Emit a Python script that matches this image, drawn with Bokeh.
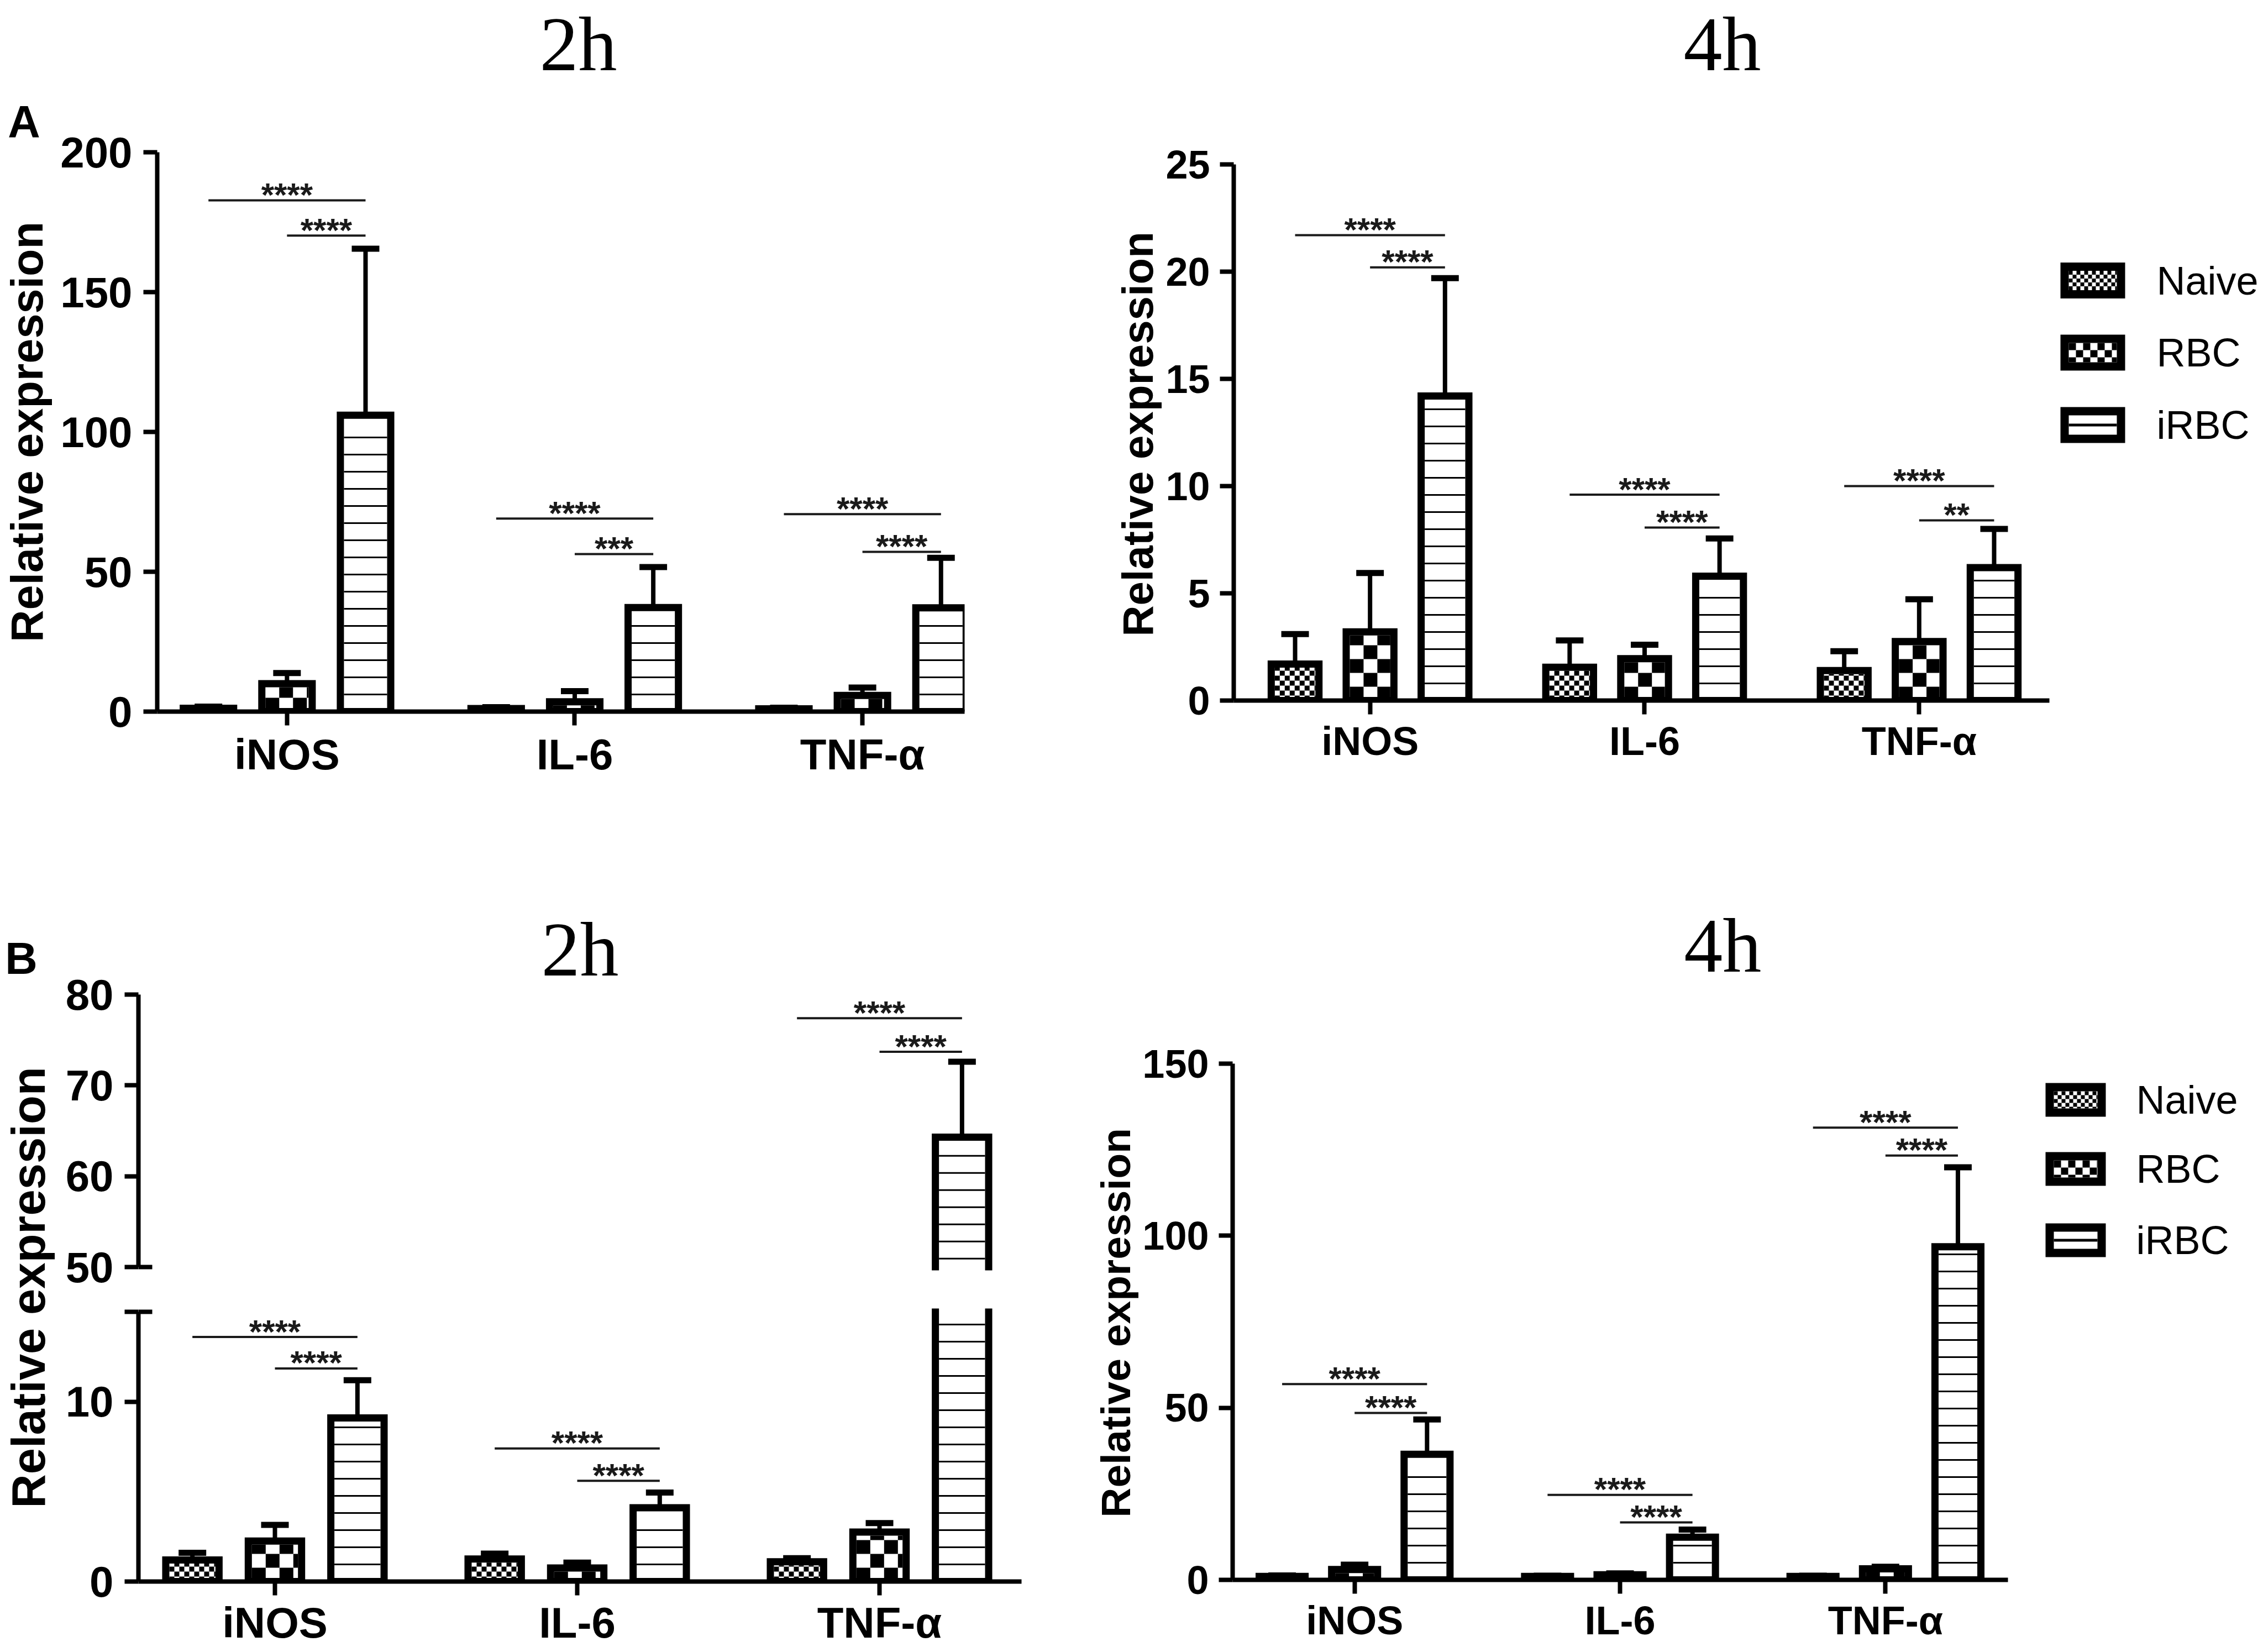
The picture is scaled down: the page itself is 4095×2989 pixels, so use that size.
import math
from bokeh.plotting import figure
from bokeh.models import Range1d, FixedTicker, Title
from bokeh.layouts import row, column
from bokeh.embed import file_html
from bokeh.resources import INLINE
from bokeh.core.properties import value

# ---------------- data ----------------
categories = ["iNOS", "IL-6", "TNF-α"]
groups = ["Naive", "RBC", "iRBC"]

# Panel A, 2h
a2_naive = [1.2, 1.1, 1.0]
a2_naive_err = [0.6, 0.5, 0.4]
a2_rbc = [10.0, 3.5, 5.8]
a2_rbc_err = [3.8, 3.8, 2.8]
a2_irbc = [106.0, 37.2, 37.1]
a2_irbc_err = [59.5, 14.5, 17.9]
a2_ticks = [0, 50, 100, 150, 200]
a2_sig_upper = [182.8, 69.0, 70.6]
a2_sig_lower = [170.2, 56.3, 57.1]
a2_star_upper = ["****", "****", "****"]
a2_star_lower = ["****", "***", "****"]

# Panel A, 4h
a4_naive = [1.7, 1.55, 1.4]
a4_naive_err = [1.4, 1.25, 0.9]
a4_rbc = [3.2, 1.95, 2.75]
a4_rbc_err = [2.75, 0.65, 1.97]
a4_irbc = [14.2, 5.8, 6.2]
a4_irbc_err = [5.5, 1.76, 1.8]
a4_ticks = [0, 5, 10, 15, 20, 25]
a4_sig_upper = [21.7, 9.6, 10.0]
a4_sig_lower = [20.2, 8.07, 8.4]
a4_star_upper = ["****", "****", "****"]
a4_star_lower = ["****", "****", "**"]

# Panel B, 2h (broken axis)
b2_naive = [1.2, 1.25, 1.1]
b2_naive_err = [0.4, 0.3, 0.2]
b2_rbc = [2.25, 0.75, 2.75]
b2_rbc_err = [0.9, 0.3, 0.5]
b2_irbc = [9.1, 4.1, 64.3]
b2_irbc_err = [2.1, 0.85, 8.3]
b2_ticks_low = [0, 10, 15]
b2_ticks_high = [50, 60, 70, 80]
b2_sig_upper = [13.6, 7.4, 77.4]
b2_sig_lower = [11.85, 5.6, 73.7]
b2_star_upper = ["****", "****", "****"]
b2_star_lower = ["****", "****", "****"]

# Panel B, 4h
b4_naive = [1.0, 1.0, 1.0]
b4_naive_err = [0.3, 0.2, 0.2]
b4_rbc = [3.0, 1.5, 3.2]
b4_rbc_err = [1.4, 0.4, 0.6]
b4_irbc = [36.5, 12.4, 96.8]
b4_irbc_err = [10.1, 2.2, 23.1]
b4_ticks = [0, 50, 100, 150]
b4_sig_upper = [56.9, 24.7, 131.4]
b4_sig_lower = [48.5, 16.7, 123.3]
b4_star_upper = ["****", "****", "****"]
b4_star_lower = ["****", "****", "****"]

# ---------------- style ----------------
SANS = "Liberation Sans"
SERIF = "Liberation Serif"
OFFS = [-0.273, 0.0, 0.273]
BAR_W = 0.2
OUT_W = 13
STEM_W = 8
CAP_W = 11
CAP_HALF = 25
SIG_W = 4
STAR_PX = 60
STAR_RISE = 10
HL_SP = 31
HL_W = 3
CELLS = [9, 25]
RAD90 = math.pi / 2


def make_geo(fl, fr, ft, fb, xr, yr):
    return dict(fl=fl, fr=fr, ft=ft, fb=fb, xr=xr, yr=yr,
                ppx=(fr - fl) / (xr[1] - xr[0]), ppy=(fb - ft) / (yr[1] - yr[0]))


def cat_geo(fl, fr, ft, fb, cat0, sp, yr):
    xr = ((fl - cat0) / sp, (fr - cat0) / sp)
    return make_geo(fl, fr, ft, fb, xr, yr)


def new_fig(fx0, fx1, fy0, fy1, g, xaxis, yaxis):
    p = figure(width=int(fx1 - fx0), height=int(fy1 - fy0), title=None,
               x_range=Range1d(*g["xr"]), y_range=Range1d(*g["yr"]),
               output_backend="svg", toolbar_location=None, tools="",
               x_axis_location="below" if xaxis else None,
               y_axis_location="left" if yaxis else None,
               min_border_left=int(round(g["fl"] - fx0)), min_border_right=int(round(fx1 - g["fr"])),
               min_border_top=int(round(g["ft"] - fy0)), min_border_bottom=int(round(fy1 - g["fb"])))
    p.outline_line_color = None
    p.xgrid.visible = False
    p.ygrid.visible = False
    p.background_fill_color = "white"
    p.border_fill_color = "white"
    return p


def text_fig(fx0, fx1, fy0, fy1, fl=None, fr=None):
    fl = fx0 if fl is None else fl
    fr = fx1 if fr is None else fr
    g = make_geo(fl, fr, fy0, fy1, (fl, fr), (fy1, fy0))
    return new_fig(fx0, fx1, fy0, fy1, g, False, False)


def put_text(p, X, Y, text, size, font=SANS, style="normal", angle=0.0, align="center"):
    p.text(x=[X], y=[Y], text=[text], angle=angle, text_font=value(font),
           text_font_size=f"{size}px", text_font_style=style, text_align=align,
           text_baseline="middle", text_color="black")


def style_ax(ax, font_px, standoff):
    ax.axis_line_width = 8
    ax.axis_line_color = "black"
    ax.major_tick_line_width = 8
    ax.major_tick_line_color = "black"
    ax.major_tick_out = 25
    ax.major_tick_in = 0
    ax.minor_tick_line_color = None
    ax.major_label_text_font = SANS
    ax.major_label_text_font_style = "bold"
    ax.major_label_text_font_size = f"{font_px}px"
    ax.major_label_text_color = "black"
    ax.major_label_standoff = standoff


def setup_axes(p, font_px, yticks, xaxis=True, overrides=None, bounds=None,
               xstand=8, ystand=20):
    yax = p.yaxis[0]
    style_ax(yax, font_px, ystand)
    yax.ticker = FixedTicker(ticks=yticks)
    if overrides:
        yax.major_label_overrides = overrides
    if bounds:
        yax.bounds = bounds
    if xaxis:
        xax = p.xaxis[0]
        style_ax(xax, font_px, xstand)
        xax.ticker = FixedTicker(ticks=list(range(len(categories))))
        xax.major_label_overrides = {i: c for i, c in enumerate(categories)}


def checker(acc, X0, X1, Y0, Y1, cw, ch):
    nx = int(math.ceil((X1 - X0) / cw - 1e-9))
    ny = int(math.ceil((Y1 - Y0) / ch - 1e-9))
    for i in range(ny):
        for j in range(nx):
            if (i + j) % 2 == 0:
                acc[0].append(X0 + j * cw)
                acc[1].append(min(X0 + (j + 1) * cw, X1))
                acc[2].append(Y0 + i * ch)
                acc[3].append(min(Y0 + (i + 1) * ch, Y1))


def draw_bars(p, g, series, errs):
    ppx, ppy = g["ppx"], g["ppy"]
    hw = BAR_W / 2 - (OUT_W / 2) / ppx
    bl, br, bb, bt = [], [], [], []
    chk = ([], [], [], [])
    hx0, hx1, hy = [], [], []
    sx, sy0, sy1 = [], [], []
    kx0, kx1, ky = [], [], []
    for gi, (vals, ers) in enumerate(zip(series, errs)):
        for ci, (v, e) in enumerate(zip(vals, ers)):
            xc = ci + OFFS[gi]
            bl.append(xc - hw); br.append(xc + hw); bb.append(0); bt.append(v)
            X0 = xc - BAR_W / 2 + OUT_W / ppx
            X1 = xc + BAR_W / 2 - OUT_W / ppx
            Y0 = 0.0
            Y1 = v - (OUT_W / 2) / ppy
            if Y1 > Y0:
                if gi < 2:
                    c = CELLS[gi]
                    checker(chk, X0, X1, Y0, Y1, c / ppx, c / ppy)
                else:
                    k = 1
                    while Y0 + k * HL_SP / ppy < Y1 - 4 / ppy:
                        hx0.append(X0); hx1.append(X1); hy.append(Y0 + k * HL_SP / ppy)
                        k += 1
            sx.append(xc); sy0.append(v); sy1.append(v + e)
            kx0.append(xc - CAP_HALF / ppx); kx1.append(xc + CAP_HALF / ppx); ky.append(v + e)
    p.quad(left=bl, right=br, bottom=bb, top=bt, fill_color="white",
           line_color="black", line_width=OUT_W, line_join="miter")
    p.quad(left=chk[0], right=chk[1], bottom=chk[2], top=chk[3],
           fill_color="black", line_color=None)
    p.segment(x0=hx0, y0=hy, x1=hx1, y1=hy, line_color="black", line_width=HL_W)
    p.segment(x0=sx, y0=sy0, x1=sx, y1=sy1, line_color="black", line_width=STEM_W)
    p.segment(x0=kx0, y0=ky, x1=kx1, y1=ky, line_color="black", line_width=CAP_W)


def draw_sig(p, g, up, up_t, lo, lo_t):
    xs0, xs1, ys, tx, ty, tt = [], [], [], [], [], []
    for ci in range(len(categories)):
        xi = ci + OFFS[2]
        for x0, y, t in ((ci + OFFS[0], up[ci], up_t[ci]), (ci + OFFS[1], lo[ci], lo_t[ci])):
            if g["yr"][0] <= y <= g["yr"][1]:
                xs0.append(x0); xs1.append(xi); ys.append(y)
                tx.append((x0 + xi) / 2); ty.append(y + STAR_RISE / g["ppy"]); tt.append(t)
    p.segment(x0=xs0, y0=ys, x1=xs1, y1=ys, line_color="#1a1a1a", line_width=SIG_W)
    p.text(x=tx, y=ty, text=tt, text_font=value(SANS), text_font_size=f"{STAR_PX}px",
           text_font_style="bold", text_align="center", text_baseline="middle",
           text_color="#1a1a1a")


def legend_fig(fx0, fx1, fy0, fy1, bx0, bx1, centers, bh, text_x, font_px, cells):
    p = text_fig(fx0, fx1, fy0, fy1)
    lw = 15
    chk = ([], [], [], [])
    hx0, hx1, hy = [], [], []
    for i, c in enumerate(centers):
        X0, X1 = bx0 + lw, bx1 - lw
        Y0, Y1 = c - bh / 2 + lw, c + bh / 2 - lw
        if i < 2:
            checker(chk, X0, X1, Y0, Y1, cells[i], cells[i])
        else:
            hx0.append(X0); hx1.append(X1); hy.append(c)
    p.quad(left=[bx0 + lw / 2] * 3, right=[bx1 - lw / 2] * 3,
           bottom=[c + bh / 2 - lw / 2 for c in centers], top=[c - bh / 2 + lw / 2 for c in centers],
           fill_color="white", line_color="black", line_width=lw, line_join="miter")
    p.quad(left=chk[0], right=chk[1], bottom=chk[2], top=chk[3], fill_color="black", line_color=None)
    p.segment(x0=hx0, y0=hy, x1=hx1, y1=hy, line_color="black", line_width=5)
    p.text(x=[text_x] * 3, y=centers, text=groups, text_font=value(SANS),
           text_font_size=f"{font_px}px", text_align="left", text_baseline="middle",
           text_color="black")
    return p


W_TOTAL = 4090

# ================= Row A =================
tA = text_fig(0, W_TOTAL, 0, 160)
put_text(tA, 1046, 79, "2h", 140, font=SERIF)
put_text(tA, 3116, 79, "4h", 140, font=SERIF)

sA2 = text_fig(0, 106, 160, 1500)
put_text(sA2, 43, 219, "A", 81, style="bold")
put_text(sA2, 48, 781, "Relative expression", 81, style="bold", angle=RAD90)

gA2 = cat_geo(283, 1745, 275, 1287, 518, 521, (0, 200))
pA2 = new_fig(106, 1800, 160, 1500, gA2, True, True)
setup_axes(pA2, 78, a2_ticks)
draw_bars(pA2, gA2, [a2_naive, a2_rbc, a2_irbc], [a2_naive_err, a2_rbc_err, a2_irbc_err])
draw_sig(pA2, gA2, a2_sig_upper, a2_star_upper, a2_sig_lower, a2_star_lower)

sA4 = text_fig(1800, 2106, 160, 1500)
put_text(sA4, 2058, 785, "Relative expression", 78, style="bold", angle=RAD90)

gA4 = cat_geo(2230, 3708, 297, 1267, 2477, 497.5, (0, 25))
pA4 = new_fig(2106, 3720, 160, 1500, gA4, True, True)
setup_axes(pA4, 72, a4_ticks, ystand=18)
draw_bars(pA4, gA4, [a4_naive, a4_rbc, a4_irbc], [a4_naive_err, a4_rbc_err, a4_irbc_err])
draw_sig(pA4, gA4, a4_sig_upper, a4_star_upper, a4_sig_lower, a4_star_lower)

legA = legend_fig(3720, W_TOTAL, 160, 1500, 3728, 3845, [507, 637.5, 768.5], 65, 3902, 72, [7, 13])

# ================= Row B =================
sB2 = text_fig(0, 110, 1500, 2985)
put_text(sB2, 38, 1733, "B", 81, style="bold")
put_text(sB2, 51, 2329, "Relative expression", 85, style="bold", angle=RAD90)

SPLIT = 2338
EXT = 6
top_ppy = (2292 - 1799) / (b2_ticks_high[-1] - b2_ticks_high[0])
gB2t = cat_geo(250, 1848, 1799, 2292 + EXT, 497, 547,
               (b2_ticks_high[0] - EXT / top_ppy, b2_ticks_high[-1]))
pB2t = new_fig(110, 1900, 1500, SPLIT, gB2t, False, True)
setup_axes(pB2t, 78, b2_ticks_high, xaxis=False, bounds=(b2_ticks_high[0], b2_ticks_high[-1]))
pB2t.add_layout(Title(text="2h", align="center", offset=-7, vertical_align="bottom",
                      text_font=SERIF, text_font_size="140px", text_font_style="normal",
                      text_color="black"), "above")

low_ppy = (2861 - 2373) / (b2_ticks_low[-1] - b2_ticks_low[0])
gB2b = cat_geo(250, 1848, 2373 - EXT, 2861, 497, 547,
               (b2_ticks_low[0], b2_ticks_low[-1] + EXT / low_ppy))
pB2b = new_fig(110, 1900, SPLIT, 2985, gB2b, True, True)
setup_axes(pB2b, 78, b2_ticks_low, overrides={b2_ticks_low[-1]: ""},
           bounds=(b2_ticks_low[0], b2_ticks_low[-1]), xstand=5)

for p_, g_ in ((pB2t, gB2t), (pB2b, gB2b)):
    draw_bars(p_, g_, [b2_naive, b2_rbc, b2_irbc], [b2_naive_err, b2_rbc_err, b2_irbc_err])
    draw_sig(p_, g_, b2_sig_upper, b2_star_upper, b2_sig_lower, b2_star_lower)

# inward halves of the axis-break marks
x_left = gB2t["xr"][0]
pB2t.segment(x0=[x_left], y0=[b2_ticks_high[0]], x1=[x_left + 25 / gB2t["ppx"]],
             y1=[b2_ticks_high[0]], line_color="black", line_width=8)
pB2b.segment(x0=[x_left], y0=[b2_ticks_low[-1]], x1=[x_left + 25 / gB2b["ppx"]],
             y1=[b2_ticks_low[-1]], line_color="black", line_width=8)

sB4 = text_fig(1900, 2064, 1500, 2985)
put_text(sB4, 2018, 2393, "Relative expression", 75, style="bold", angle=RAD90)

# title strip shares the horizontal frame of the 4h panel below it
tB4 = text_fig(2064, 3650, 1500, 1800, fl=2228, fr=3633)
put_text(tB4, 3116, 1710, "4h", 140, font=SERIF)

gB4 = cat_geo(2228, 3633, 1924, 2858, 2449, 481, (0, 150))
pB4 = new_fig(2064, 3650, 1800, 2985, gB4, True, True)
setup_axes(pB4, 72, b4_ticks, ystand=18)
draw_bars(pB4, gB4, [b4_naive, b4_rbc, b4_irbc], [b4_naive_err, b4_rbc_err, b4_irbc_err])
draw_sig(pB4, gB4, b4_sig_upper, b4_star_upper, b4_sig_lower, b4_star_lower)

legB = legend_fig(3650, W_TOTAL, 1500, 2985, 3701, 3810, [1989.5, 2114.5, 2243.5], 61, 3865, 72, [7, 13])

layout = column(
    column(tA),
    row(column(sA2), column(pA2), column(sA4), column(pA4), column(legA)),
    row(column(sB2), column(pB2t, pB2b), column(sB4), column(tB4, pB4), column(legB)),
)

open("out.html", "w").write(file_html(layout, INLINE, title="Relative expression"))
